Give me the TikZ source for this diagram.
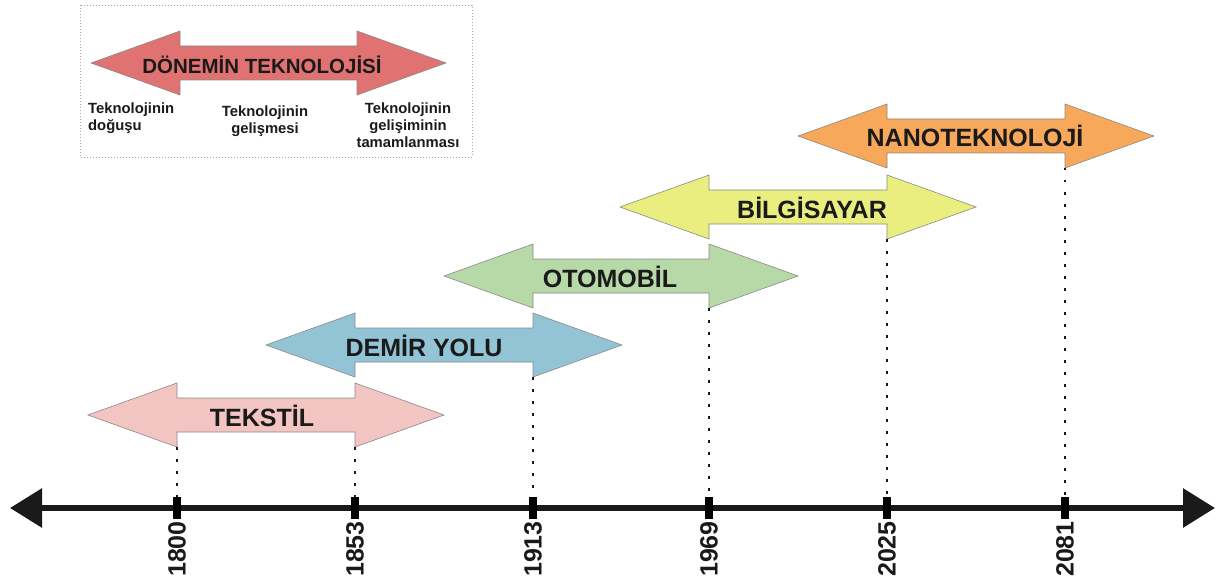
\documentclass[tikz,border=0pt]{standalone}
\usepackage{fontspec}
\setmainfont{Liberation Sans}
\usetikzlibrary{arrows.meta}
\definecolor{cTeks}{HTML}{F2C4C2}
\definecolor{cDemir}{HTML}{93C4D5}
\definecolor{cOto}{HTML}{B7D8A7}
\definecolor{cBilg}{HTML}{E9EE7F}
\definecolor{cNano}{HTML}{F7A85A}
\definecolor{cLeg}{HTML}{E07272}
\definecolor{cOut}{HTML}{8A8A8A}
\definecolor{cTxt}{HTML}{1A1A1A}
\newcommand\DblArrow[8]{% name, left shaft x, right shaft x, centre y, colour, text x, font size, text
  \filldraw[arrowshape, fill=#5] (#2-89,#4) -- (#2,#4-32) -- (#2,#4-17) -- (#3,#4-17) -- (#3,#4-32)
    -- (#3+89,#4) -- (#3,#4+32) -- (#3,#4+17) -- (#2,#4+17) -- (#2,#4+32) -- cycle;
  \node[arrowlabel, font=\bfseries\fontsize{#7}{#7}\selectfont] (#1) at (#6,#4+11) {#8};
  \coordinate (#1-bl) at (#2,#4+32);
  \coordinate (#1-br) at (#3,#4+32);
}
\begin{document}
\begin{tikzpicture}[x=1pt,y=-1pt,
  arrowshape/.style={draw=cOut, line width=0.6pt, line join=miter},
  arrowlabel/.style={anchor=base, inner sep=0pt, text=cTxt},
  tick/.style={fill=black, inner sep=0pt, minimum width=8pt, minimum height=22pt},
  year/.style={rotate=90, anchor=east, inner sep=0pt, font=\bfseries\fontsize{25}{25}\selectfont, text=cTxt},
  dotline/.style={line width=1.8pt, dash pattern=on 2.5pt off 9.5pt, draw=cTxt},
  legtxt/.style={inner sep=0pt, font=\bfseries\fontsize{14.8}{17}\selectfont, text=cTxt},
  axis/.style={line width=6pt, draw=cTxt, {Triangle[length=32pt,width=38pt]}-{Triangle[length=32pt,width=38pt]}}
]
\useasboundingbox (0,0) rectangle (1217,580);

% legend
\draw[draw=gray!70, line width=0.8pt, dash pattern=on 1pt off 2pt] (80,5) rectangle (472,157);
\DblArrow{legend}{180}{357}{63}{cLeg}{262}{20.5}{DÖNEMİN TEKNOLOJİSİ}
\node[legtxt, anchor=north west, align=left] (l1) at (88,103) {Teknolojinin\\doğuşu};
\node[legtxt, anchor=north, align=center] (l2) at (265,106) {Teknolojinin\\gelişmesi};
\node[legtxt, anchor=north, align=center] (l3) at (408,103) {Teknolojinin\\gelişiminin\\tamamlanması};

% era arrows
\DblArrow{teks}{177}{355}{415}{cTeks}{262}{25}{TEKSTİL}
\DblArrow{demir}{355}{533}{345}{cDemir}{424}{25}{DEMİR YOLU}
\DblArrow{oto}{533}{709}{276}{cOto}{610}{25}{OTOMOBİL}
\DblArrow{bilg}{709}{887}{207}{cBilg}{812}{25}{BİLGİSAYAR}
\DblArrow{nano}{887}{1065}{136}{cNano}{975}{25}{NANOTEKNOLOJİ}

% axis
\coordinate (axL) at (10,508);
\coordinate (axR) at (1215,508);
\draw[axis] (axL) -- (axR);

\foreach \n/\x in {1800/177,1853/355,1913/533,1969/709,2025/887,2081/1065}{
  \node[tick] (t\n) at (\x,508) {};
  \node[year] (y\n) at (\x,521) {\n};
}

% dotted guides
\draw[dotline] (teks-bl) -- (t1800.north);
\draw[dotline] (teks-br) -- (t1853.north);
\draw[dotline] (demir-br) -- (t1913.north);
\draw[dotline] (oto-br) -- (t1969.north);
\draw[dotline] (bilg-br) -- (t2025.north);
\draw[dotline] (nano-br) -- (t2081.north);
\end{tikzpicture}
\end{document}
